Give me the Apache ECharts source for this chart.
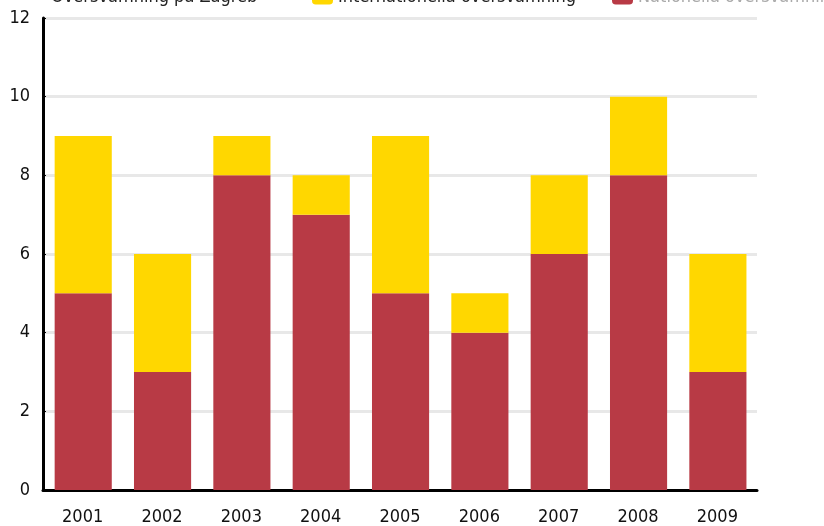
<!DOCTYPE html>
<html>
<head>
<meta charset="utf-8">
<script src="https://cdn.jsdelivr.net/npm/echarts@6/dist/echarts.min.js"></script>
<style>
  html, body { margin: 0; padding: 0; background: #fff; }
  #chart { width: 824px; height: 526px; }
</style>
</head>
<body>
<div id="chart"></div>
<script>
var years = ['2001', '2002', '2003', '2004', '2005', '2006', '2007', '2008', '2009'];
var nationalValues = [5, 3, 8, 7, 5, 4, 6, 8, 3];
var internationalValues = [4, 3, 1, 1, 4, 1, 2, 2, 3];
var yTicks = [0, 2, 4, 6, 8, 10, 12];

var font = '"DejaVu Sans Condensed", "DejaVu Sans", sans-serif';

function makeLegend(name, left, textColor) {
  return {
    data: [name],
    left: left,
    top: -17,
    itemWidth: 21,
    itemHeight: 15,
    itemGap: 0,
    selectedMode: false,
    textStyle: { fontFamily: font, fontSize: 18, color: textColor }
  };
}

var option = {
  backgroundColor: '#fff',
  animation: false,
  legend: [
    makeLegend('Översvämning på Zagreb', 20, '#222'),
    makeLegend('Internationella översvämning', 307, '#222'),
    makeLegend('Nationella översvämningar', 607, '#aaa')
  ],
  grid: { top: 18, left: 43, right: 67, bottom: 36 },
  xAxis: {
    type: 'category',
    data: years,
    axisLine: { lineStyle: { color: '#000', width: 3 } },
    axisTick: { inside: true, length: 12, lineStyle: { color: '#000', width: 2 } },
    axisLabel: { margin: 18, fontFamily: font, fontSize: 18, color: '#111' }
  },
  yAxis: {
    type: 'value',
    min: 0,
    max: 12,
    interval: 2,
    axisLine: { show: true, lineStyle: { color: '#000', width: 3 } },
    axisTick: { show: true, inside: true, length: 3, lineStyle: { color: '#000' } },
    axisLabel: {
      margin: 13, fontFamily: font, fontSize: 18, color: '#111',
      formatter: function (v) { return yTicks.indexOf(v) >= 0 ? String(v) : ''; }
    },
    splitLine: { lineStyle: { color: '#e8e8e8', width: 3 } }
  },
  series: [
    {
      name: 'Översvämning på Zagreb',
      type: 'bar',
      data: [],
      itemStyle: { color: 'rgba(255,255,255,0)' }
    },
    {
      name: 'Nationella översvämningar',
      type: 'bar',
      stack: 'total',
      barWidth: '72%',
      data: nationalValues,
      itemStyle: { color: '#b83a45' }
    },
    {
      name: 'Internationella översvämning',
      type: 'bar',
      stack: 'total',
      barWidth: '72%',
      data: internationalValues,
      itemStyle: { color: '#ffd700' }
    }
  ]
};

var chart = echarts.init(document.getElementById('chart'));
chart.setOption(option);
</script>
</body>
</html>
